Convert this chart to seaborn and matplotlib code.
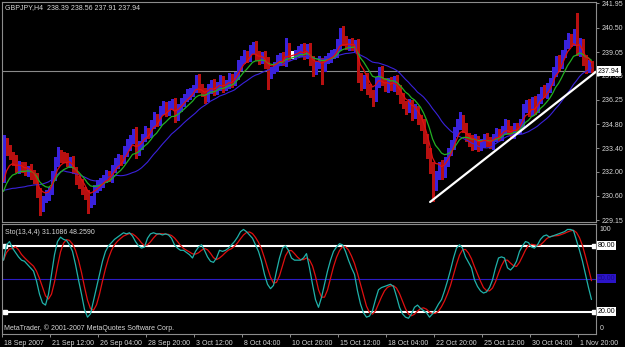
import numpy as np
import pandas as pd
import matplotlib
matplotlib.use("Agg")
import matplotlib.pyplot as plt
import matplotlib.transforms as mtrans
import seaborn as sns

# ==========================================
# 1. DADOS (GBPJPY, H4)
# ==========================================
titulo = "GBPJPY,H4  238.39 238.56 237.91 237.94"
titulo_sto = "Sto(13,4,4) 31.1086 48.2590"
rodape = "MetaTrader, \u00a9 2001-2007 MetaQuotes Software Corp."

rotulos_tempo = ["18 Sep 2007", "21 Sep 12:00", "26 Sep 04:00", "28 Sep 20:00",
                 "3 Oct 12:00", "8 Oct 04:00", "10 Oct 20:00", "15 Oct 12:00",
                 "18 Oct 04:00", "22 Oct 20:00", "25 Oct 12:00", "30 Oct 04:00",
                 "1 Nov 20:00"]
barras_rotulo = [0, 16, 32, 48, 64, 80, 96, 112, 128, 144, 160, 176, 192]
precos_eixo = [241.95, 240.50, 239.05, 237.65, 236.25, 234.80, 233.40, 232.00, 230.60, 229.15]
preco_atual = 237.94

# histórico antes da primeira barra visível (só alimenta as médias)
pre_fech = [232.4, 232.2, 232.5, 232.1, 231.9, 232.0, 231.7, 231.8, 231.5, 231.2, 231.4,
            230.9, 230.4, 229.9, 229.6, 229.4, 229.5, 229.3, 229.4, 229.6, 229.5, 231.6]

fechamento = [
    233.8, 233.3, 233.0, 232.7, 232.2, 232.4, 232.3, 232.0, 232.2, 231.9,
    231.6, 230.8, 230.0, 230.4, 230.6, 230.9, 231.8, 232.6, 233.1, 232.9,
    232.8, 232.6, 232.7, 232.1, 231.6, 231.3, 230.9, 230.7, 230.2, 230.4,
    231.0, 231.2, 231.4, 231.6, 231.8, 231.7, 232.2, 232.5, 232.8, 232.7,
    233.2, 233.6, 233.9, 234.2, 233.3, 233.6, 234.0, 234.4, 234.3, 234.8,
    235.2, 235.0, 235.6, 235.9, 235.6, 235.9, 236.0, 235.3, 235.8, 236.1,
    236.4, 236.6, 236.7, 236.9, 237.4, 237.0, 236.7, 236.4, 236.9, 237.2,
    236.8, 237.1, 237.4, 237.0, 237.2, 237.5, 237.3, 237.7, 238.3, 238.6,
    238.9, 238.8, 239.2, 239.4, 238.9, 238.6, 238.8, 238.4, 237.8, 238.0,
    238.2, 238.6, 238.8, 238.5, 239.3, 238.9, 238.9, 239.0, 239.1, 239.3,
    238.9, 239.3, 238.6, 238.0, 238.3, 238.5, 238.2, 238.6, 238.8, 238.9,
    239.0, 239.5, 240.1, 239.7, 239.5, 239.6, 239.4, 239.5, 237.6, 237.2,
    237.5, 236.9, 236.6, 236.4, 237.3, 237.9, 237.3, 237.0, 237.3, 237.0,
    237.4, 236.9, 236.4, 236.0, 235.7, 236.0, 235.4, 235.7, 235.1, 234.8,
    234.0, 233.2, 232.3, 231.2, 231.8, 232.4, 232.0, 232.6, 233.2, 233.6,
    234.3, 234.8, 235.1, 234.6, 234.1, 233.9, 233.6, 233.9, 233.5, 233.7,
    234.0, 233.8, 233.6, 234.0, 234.3, 234.1, 234.5, 234.8, 234.5, 234.2,
    234.6, 234.5, 234.9, 235.7, 236.0, 235.6, 236.2, 235.7, 236.3, 236.8,
    236.6, 237.0, 237.3, 237.9, 238.6, 238.3, 239.0, 239.5, 239.9, 239.7,
    240.1, 239.2, 239.6, 238.6, 238.1, 238.39, 237.94]

pavio_sup = [
    0.35, 0.2, 0.3, 0.15, 0.3, 0.25, 0.2, 0.3, 0.15, 0.25,
    0.2, 0.3, 0.25, 0.2, 0.3, 0.2, 0.25, 0.3, 0.35, 0.2,
    0.25, 0.3, 0.2, 0.25, 0.2, 0.15, 0.3, 0.2, 0.25, 0.2,
    0.2, 0.3, 0.25, 0.2, 0.3, 0.25, 0.2, 0.3, 0.25, 0.2,
    0.3, 0.35, 0.25, 0.3, 0.45, 0.2, 0.25, 0.3, 0.2, 0.25,
    0.3, 0.2, 0.25, 0.3, 0.2, 0.25, 0.3, 0.35, 0.2, 0.25,
    0.2, 0.3, 0.25, 0.2, 0.3, 0.35, 0.2, 0.25, 0.3, 0.2,
    0.25, 0.2, 0.3, 0.25, 0.2, 0.3, 0.25, 0.2, 0.3, 0.25,
    0.3, 0.2, 0.25, 0.25, 0.3, 0.2, 0.25, 0.3, 0.35, 0.2,
    0.25, 0.3, 0.2, 0.25, 0.6, 0.3, 0.25, 0.2, 0.3, 0.25,
    0.3, 0.25, 0.3, 0.2, 0.25, 0.3, 0.2, 0.25, 0.2, 0.3,
    0.25, 0.3, 0.35, 0.5, 0.3, 0.25, 0.3, 0.25, 0.3, 0.25,
    0.2, 0.3, 0.25, 0.2, 0.3, 0.25, 0.35, 0.2, 0.25, 0.3,
    0.25, 0.3, 0.2, 0.25, 0.2, 0.3, 0.25, 0.3, 0.2, 0.25,
    0.3, 0.25, 0.2, 0.3, 0.25, 0.2, 0.3, 0.25, 0.2, 0.3,
    0.35, 0.3, 0.4, 0.25, 0.3, 0.2, 0.25, 0.3, 0.2, 0.25,
    0.2, 0.3, 0.25, 0.2, 0.3, 0.25, 0.2, 0.3, 0.25, 0.2,
    0.25, 0.3, 0.2, 0.3, 0.25, 0.3, 0.2, 0.25, 0.3, 0.2,
    0.3, 0.25, 0.2, 0.3, 0.25, 0.3, 0.2, 0.25, 0.3, 0.2,
    0.3, 1.25, 0.3, 0.25, 0.3, 0.2, 0.17]

pavio_inf = [
    0.2, 0.3, 0.25, 0.3, 0.2, 0.25, 0.3, 0.2, 0.25, 0.3,
    0.25, 0.3, 0.55, 0.3, 0.2, 0.25, 0.2, 0.3, 0.25, 0.3,
    0.2, 0.25, 0.3, 0.2, 0.3, 0.25, 0.2, 0.3, 0.6, 0.25,
    0.3, 0.2, 0.25, 0.3, 0.2, 0.25, 0.3, 0.2, 0.25, 0.3,
    0.2, 0.25, 0.3, 0.2, 0.5, 0.3, 0.25, 0.2, 0.3, 0.25,
    0.2, 0.3, 0.25, 0.2, 0.3, 0.25, 0.2, 0.35, 0.25, 0.2,
    0.25, 0.2, 0.3, 0.25, 0.2, 0.3, 0.25, 0.35, 0.2, 0.25,
    0.3, 0.2, 0.25, 0.3, 0.2, 0.25, 0.3, 0.2, 0.25, 0.3,
    0.2, 0.3, 0.25, 0.2, 0.3, 0.25, 0.2, 0.3, 0.9, 0.25,
    0.2, 0.25, 0.3, 0.2, 0.25, 0.3, 0.2, 0.25, 0.2, 0.3,
    0.25, 0.2, 0.3, 0.35, 0.25, 0.2, 1.0, 0.25, 0.2, 0.3,
    0.2, 0.25, 0.3, 0.2, 0.25, 0.3, 0.2, 0.25, 0.3, 0.35,
    0.25, 0.3, 0.2, 0.5, 0.25, 0.3, 0.2, 0.25, 0.3, 0.2,
    0.25, 0.3, 0.35, 0.25, 0.3, 0.2, 0.35, 0.25, 0.3, 0.35,
    0.3, 0.4, 0.35, 0.9, 0.3, 0.25, 0.4, 0.3, 0.25, 0.2,
    0.25, 0.2, 0.3, 0.25, 0.3, 0.35, 0.3, 0.25, 0.3, 0.2,
    0.25, 0.3, 0.2, 0.25, 0.2, 0.25, 0.2, 0.25, 0.3, 0.2,
    0.2, 0.15, 0.2, 0.25, 0.2, 0.3, 0.25, 0.3, 0.2, 0.25,
    0.2, 0.25, 0.3, 0.2, 0.25, 0.3, 0.2, 0.25, 0.2, 0.3,
    0.25, 0.3, 0.35, 0.3, 0.25, 0.2, 0.03]

# linha principal do estocástico (%K); o sinal é a média de 4 barras
sto_principal = [
    67, 81, 84, 78, 74, 70, 67, 66, 63, 60,
    57, 48, 36, 28, 26, 36, 54, 72, 84, 88,
    86, 85, 81, 75, 63, 49, 36, 22, 15, 18,
    30, 42, 54, 66, 75, 80, 83, 86, 88, 90,
    92, 91, 92, 89, 84, 80, 78, 79, 87, 91,
    92, 91, 91, 90, 91, 90, 87, 81, 78, 76,
    76, 74, 72, 69, 75, 79, 81, 76, 70, 66,
    65, 69, 76, 75, 76, 78, 81, 84, 88, 93,
    95, 93, 90, 87, 81, 75, 66, 54, 45, 41,
    44, 57, 69, 78, 80, 76, 69, 67, 67, 67,
    69, 73, 60, 45, 31, 24, 33, 45, 57, 67,
    75, 79, 82, 81, 75, 67, 60, 54, 39, 27,
    19, 15, 16, 21, 31, 40, 42, 43, 44, 45,
    43, 34, 24, 18, 15, 14, 18, 24, 26, 23,
    21, 19, 15, 18, 22, 27, 31, 39, 48, 58,
    69, 78, 81, 78, 70, 65, 60, 49, 43, 39,
    37, 38, 42, 49, 60, 69, 70, 69, 60, 58,
    61, 66, 75, 80, 84, 83, 79, 78, 81, 86,
    89, 90, 88, 89, 90, 91, 92, 93, 95, 95,
    94, 85, 76, 66, 54, 42, 31.11]

# linha de tendência branca (barra, preço)
tend_barras = [142.2, 197.5]
tend_precos = [230.22, 237.90]

# ==========================================
# 2. ESTILO
# ==========================================
sns.set_theme(style="dark", rc={"axes.facecolor": "black", "figure.facecolor": "black",
                                "axes.grid": False})
plt.rcParams['font.family'] = ['Liberation Sans', 'DejaVu Sans']

COR_ALTA = '#3a22dc'
COR_BAIXA = '#f01414'
COR_PAVIO_BAIXA = '#b81010'
COR_TEXTO = '#d8d8d8'
COR_BORDA = '#8c8c8c'
FS = 5

W, H = 625, 347
fig = plt.figure(figsize=(W / 100, H / 100), dpi=100, facecolor='black')
ax = fig.add_axes([2 / W, 1 - 222 / H, 594 / W, 220 / H])
ax2 = fig.add_axes([2 / W, 1 - 333.6 / H, 594 / W, 109.6 / H])

for a in (ax, ax2):
    a.set_facecolor('black')
    for s in a.spines.values():
        s.set_color(COR_BORDA)
        s.set_linewidth(0.8)
    a.set_xlim(-0.5, 197.5)

# ==========================================
# 3. VELAS + MÉDIAS
# ==========================================
c = np.array(fechamento)
o = np.r_[pre_fech[-1], c[:-1]]
hi = np.maximum(o, c) + np.array(pavio_sup)
lo = np.minimum(o, c) - np.array(pavio_inf)
idx = np.arange(len(c))

cor_corpo = np.where(c > o, COR_ALTA, np.where(c < o, COR_BAIXA, 'white'))
cor_pavio = np.where(c > o, COR_ALTA, np.where(c < o, COR_PAVIO_BAIXA, 'white'))

ax.vlines(idx, lo, hi, colors=cor_pavio, lw=0.75, antialiased=False)
ax.bar(idx, np.abs(c - o), bottom=np.minimum(o, c), width=0.62,
       color=cor_corpo, lw=0, antialiased=False)
doji = c == o
ax.hlines(c[doji], idx[doji] - 0.6, idx[doji] + 0.6, colors='white', lw=0.75)

todos = pd.Series(pre_fech + fechamento)
n_pre = len(pre_fech)
medias = pd.DataFrame({
    'barra': idx,
    'vermelha': todos.ewm(span=5, adjust=False).mean().values[n_pre:],
    'verde': todos.ewm(span=10, adjust=False).mean().values[n_pre:],
    'azul': todos.rolling(21, min_periods=1).mean().values[n_pre:],
})
sns.lineplot(data=medias, x='barra', y='azul', ax=ax, color='#3a22dc', lw=0.8, legend=False)
sns.lineplot(data=medias, x='barra', y='verde', ax=ax, color='#22b022', lw=0.9, legend=False)
sns.lineplot(data=medias, x='barra', y='vermelha', ax=ax, color='#e01010', lw=0.9, legend=False)

ax.axhline(preco_atual, color='#8a8a8a', lw=0.8, zorder=1)
sns.lineplot(x=tend_barras, y=tend_precos, ax=ax, color='white', lw=1.6)

ax.set_ylim(229.04, 242.01)
ax.yaxis.tick_right()
ax.set_yticks(precos_eixo)
ax.set_yticklabels([f"{p:.2f}" for p in precos_eixo])
ax.tick_params(axis='y', colors=COR_BORDA, labelcolor=COR_TEXTO, labelsize=FS,
               length=2.5, width=0.7, pad=1.5, right=True, left=False)
ax.set_xticks([])
ax.set_xlabel('')
ax.set_ylabel('')

mix = mtrans.blended_transform_factory(ax.transAxes, ax.transData)
ax.text(1.003, preco_atual, f"{preco_atual:.2f}", transform=mix, ha='left', va='center',
        fontsize=FS, color='black', zorder=5,
        bbox=dict(boxstyle='square,pad=0.15', fc='white', ec='none'))
ax.text(3 / 594, 1 - 6 / 220, titulo, transform=ax.transAxes, ha='left', va='center',
        fontsize=FS, color=COR_TEXTO)

# ==========================================
# 4. ESTOCÁSTICO
# ==========================================
sto = pd.DataFrame({'barra': idx, 'principal': sto_principal})
sto['sinal'] = sto['principal'].rolling(4, min_periods=1).mean()

ax2.axhline(50, color='#2b1bc4', lw=0.8)
for nivel in (80, 20):
    ax2.axhline(nivel, color='white', lw=1.5)
    ax2.plot([0.35, 196.9], [nivel, nivel], 's', ms=3, color='white', mec='white')

sns.lineplot(data=sto, x='barra', y='sinal', ax=ax2, color='#e01010', lw=0.9, legend=False)
sns.lineplot(data=sto, x='barra', y='principal', ax=ax2, color='#20b2aa', lw=0.9, legend=False)

ax2.set_ylim(0, 100)
ax2.set_yticks([])
ax2.set_xlabel('')
ax2.set_ylabel('')

mix2 = mtrans.blended_transform_factory(ax2.transAxes, ax2.transData)
ax2.text(1.006, 94.6, "100", transform=mix2, ha='left', va='center', fontsize=FS, color=COR_TEXTO)
ax2.text(1.006, 5.0, "0", transform=mix2, ha='left', va='center', fontsize=FS, color=COR_TEXTO)
for nivel in (80, 20):
    ax2.text(1.003, nivel, f"{nivel:.2f}", transform=mix2, ha='left', va='center',
             fontsize=FS, color='black',
             bbox=dict(boxstyle='square,pad=0.15', fc='white', ec='none'))
ax2.text(1.003, 50, "50.00", transform=mix2, ha='left', va='center', fontsize=FS,
         color='#1a0a8a', bbox=dict(boxstyle='square,pad=0.15', fc='#2b14c8', ec='none'))

ax2.text(3 / 594, 1 - 8.5 / 109.6, titulo_sto, transform=ax2.transAxes, ha='left',
         va='center', fontsize=FS, color=COR_TEXTO)
ax2.text(2 / 594, 5.1 / 109.6, rodape, transform=ax2.transAxes, ha='left',
         va='center', fontsize=FS, color=COR_TEXTO)

ax2.set_xticks([b - 0.5 for b in barras_rotulo])
ax2.set_xticklabels(rotulos_tempo)
ax2.tick_params(axis='x', colors=COR_BORDA, labelcolor=COR_TEXTO, labelsize=FS,
                length=2.5, width=0.7, pad=2, bottom=True)
desloc = mtrans.ScaledTranslation(2 / 100, 0, fig.dpi_scale_trans)
for lab in ax2.get_xticklabels():
    lab.set_horizontalalignment('left')
    lab.set_transform(lab.get_transform() + desloc)

fig.savefig('out.png', dpi=100, facecolor='black')
